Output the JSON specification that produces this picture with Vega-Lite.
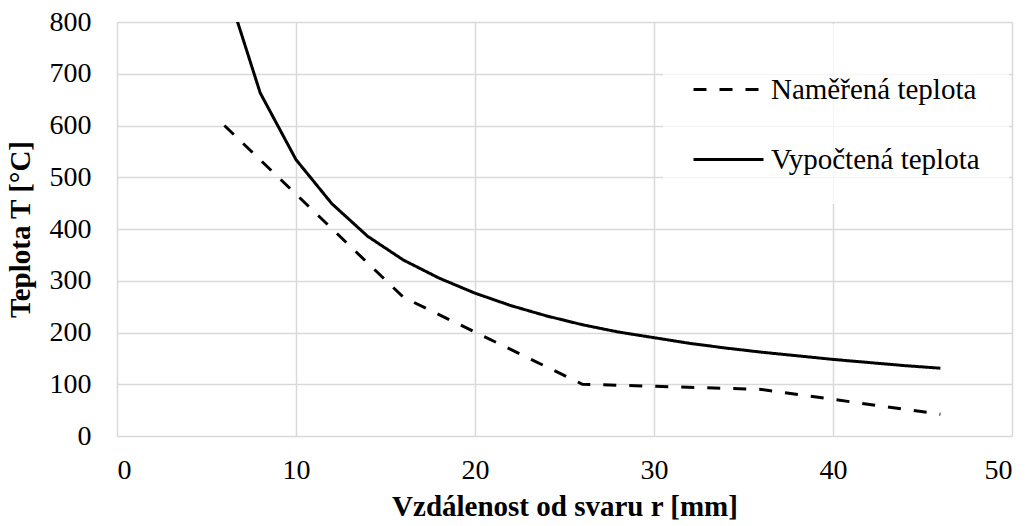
{
  "$schema": "https://vega.github.io/schema/vega-lite/v6.json",
  "width": 895,
  "height": 414,
  "autosize": {"type": "none"},
  "padding": {"left": 117, "top": 22, "right": 22, "bottom": 90},
  "background": "white",
  "config": {
    "font": "Liberation Serif",
    "view": {"stroke": null}
  },
  "data": {
    "values": [
      {"r": 6, "T": 600, "series": "Naměřená teplota"},
      {"r": 16, "T": 268, "series": "Naměřená teplota"},
      {"r": 26, "T": 100, "series": "Naměřená teplota"},
      {"r": 36, "T": 90, "series": "Naměřená teplota"},
      {"r": 46, "T": 42, "series": "Naměřená teplota"},
      {"r": 6, "T": 880, "series": "Vypočtená teplota"},
      {"r": 8, "T": 663, "series": "Vypočtená teplota"},
      {"r": 10, "T": 534, "series": "Vypočtená teplota"},
      {"r": 12, "T": 449, "series": "Vypočtená teplota"},
      {"r": 14, "T": 386, "series": "Vypočtená teplota"},
      {"r": 16, "T": 340, "series": "Vypočtená teplota"},
      {"r": 18, "T": 305, "series": "Vypočtená teplota"},
      {"r": 20, "T": 276, "series": "Vypočtená teplota"},
      {"r": 22, "T": 252, "series": "Vypočtená teplota"},
      {"r": 24, "T": 232, "series": "Vypočtená teplota"},
      {"r": 26, "T": 215, "series": "Vypočtená teplota"},
      {"r": 28, "T": 201, "series": "Vypočtená teplota"},
      {"r": 30, "T": 190, "series": "Vypočtená teplota"},
      {"r": 32, "T": 179, "series": "Vypočtená teplota"},
      {"r": 34, "T": 170, "series": "Vypočtená teplota"},
      {"r": 36, "T": 162, "series": "Vypočtená teplota"},
      {"r": 38, "T": 155, "series": "Vypočtená teplota"},
      {"r": 40, "T": 148, "series": "Vypočtená teplota"},
      {"r": 42, "T": 142, "series": "Vypočtená teplota"},
      {"r": 44, "T": 136, "series": "Vypočtená teplota"},
      {"r": 46, "T": 131, "series": "Vypočtená teplota"}
    ]
  },
  "mark": {"type": "line", "clip": true, "strokeWidth": 3, "color": "#000"},
  "encoding": {
    "x": {
      "field": "r",
      "type": "quantitative",
      "scale": {"domain": [0, 50], "nice": false},
      "axis": {
        "values": [0, 10, 20, 30, 40, 50],
        "title": "Vzdálenost od svaru r [mm]",
        "domain": false,
        "ticks": false,
        "gridColor": "#d9d9d9",
        "gridWidth": 1.5,
        "labelFont": "Liberation Serif",
        "labelFontSize": 28,
        "labelColor": "#000",
        "titleFont": "Liberation Serif",
        "titleFontSize": 29,
        "titleFontWeight": "bold",
        "titleColor": "#000",
        "labelPadding": 20,
        "titlePadding": 8
      }
    },
    "y": {
      "field": "T",
      "type": "quantitative",
      "scale": {"domain": [0, 800], "nice": false},
      "axis": {
        "values": [0, 100, 200, 300, 400, 500, 600, 700, 800],
        "title": "Teplota T [°C]",
        "domain": false,
        "ticks": false,
        "gridColor": "#d9d9d9",
        "gridWidth": 1.5,
        "labelFont": "Liberation Serif",
        "labelFontSize": 28,
        "labelColor": "#000",
        "titleFont": "Liberation Serif",
        "titleFontSize": 29,
        "titleFontWeight": "bold",
        "titleColor": "#000",
        "labelPadding": 26,
        "titlePadding": 14
      }
    },
    "strokeDash": {
      "field": "series",
      "type": "nominal",
      "scale": {
        "domain": ["Naměřená teplota", "Vypočtená teplota"],
        "range": [[13, 13], [1, 0]]
      },
      "legend": {
        "title": null,
        "orient": "none",
        "legendX": 546,
        "legendY": 2,
        "padding": 29,
        "fillColor": "rgba(255,255,255,0.75)",
        "strokeColor": null,
        "symbolType": "stroke",
        "symbolSize": 4900,
        "symbolStrokeWidth": 3,
        "symbolStrokeColor": "#000",
        "labelFont": "Liberation Serif",
        "labelFontSize": 29,
        "labelColor": "#000",
        "labelOffset": 6,
        "labelLimit": 400,
        "rowPadding": 18
      }
    }
  }
}
